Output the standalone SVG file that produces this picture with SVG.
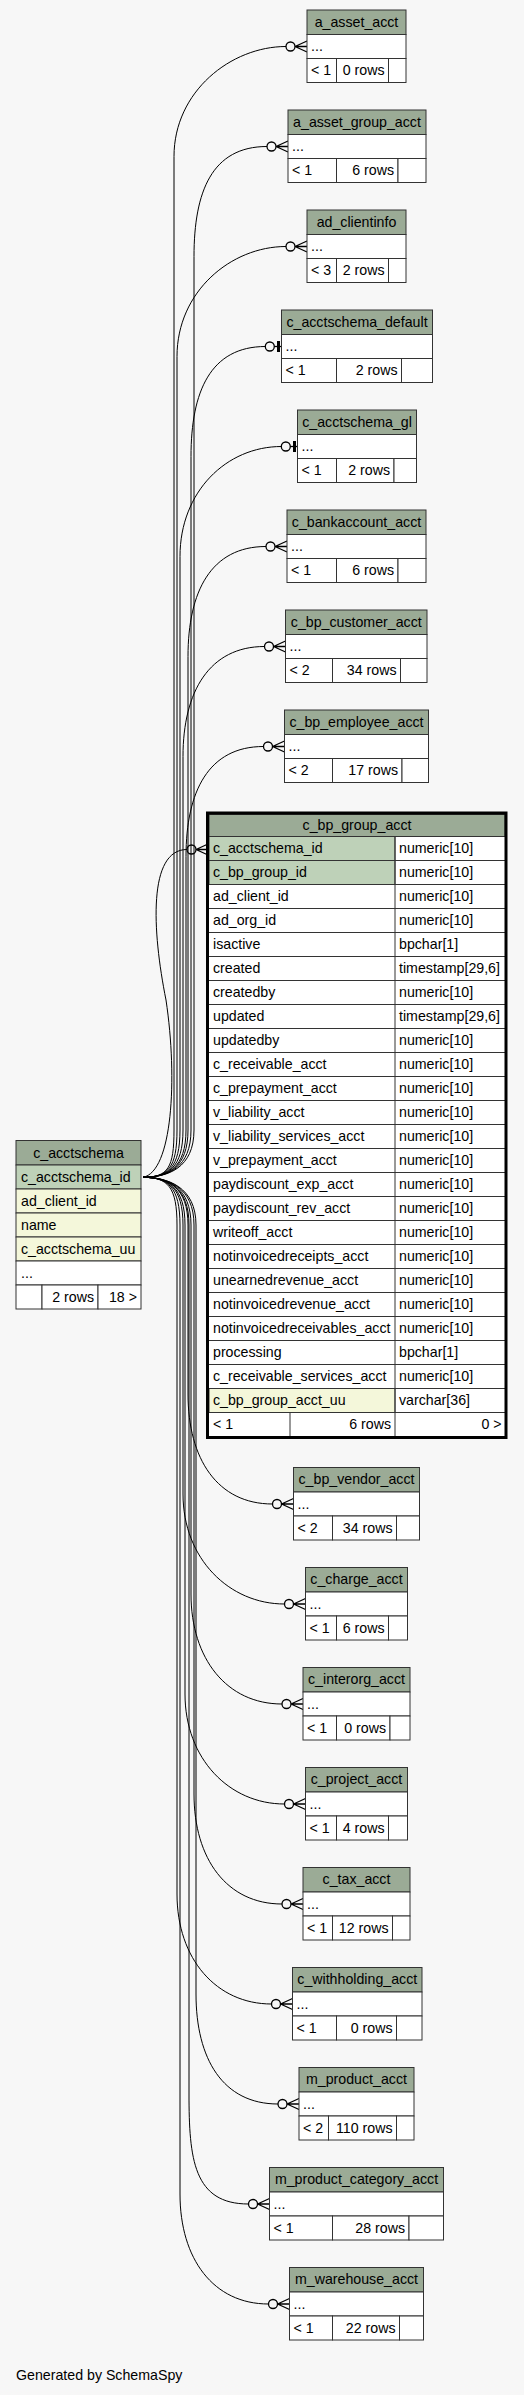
<svg xmlns="http://www.w3.org/2000/svg" xmlns:xlink="http://www.w3.org/1999/xlink" width="524" height="2395" viewBox="0 0 524 2395">
<style>
text{font-family:"Liberation Sans",Arial,Helvetica,sans-serif;font-size:14.2px;fill:#000}
.c{text-anchor:middle}
.e{text-anchor:end}
.hd{fill:#9bab96;stroke:#333;stroke-width:1}
.bd{fill:#fff;stroke:#333;stroke-width:1}
.pk{fill:#bed1b8;stroke:#333;stroke-width:1}
.ix{fill:#f4f7da;stroke:#333;stroke-width:1}
.ln{fill:none;stroke:#333;stroke-width:1}
#edges path{fill:none;stroke:#000;stroke-width:1}
.mk{fill:none;stroke:#000;stroke-width:1.3}
</style>
<defs>
<g id="crow" class="mk"><circle cx="-16.5" cy="0" r="4.5"/><path d="M-12,0 L0,-5.5 M-12,0 L0,0 M-12,0 L0,5.5"/></g>
<g id="tee" class="mk"><circle cx="-11.7" cy="0" r="4.5"/><path d="M-7.2,0 H0"/><rect x="-4.5" y="-5.5" width="3" height="11" fill="#000" stroke="none"/></g>
</defs>
<rect x="0" y="0" width="524" height="2395" fill="#f7f7f7"/>

<g id="edges">
<path d="M143,1177.3 C168,1177.3 174,1168 174,1130 L174,156.5 C174,91.5 231,46.5 286,46.5"/>
<path d="M143,1177.3 C168,1177.3 194,1168 194,1130 L194,256.5 C194,191.5 212,146.5 267,146.5"/>
<path d="M143,1177.3 C168,1177.3 177,1168 177,1130 L177,356.5 C177,291.5 231,246.5 286,246.5"/>
<path d="M143,1177.3 C168,1177.3 191,1168 191,1130 L191,456.5 C191,391.5 210.5,346.5 265.5,346.5"/>
<path d="M143,1177.3 C168,1177.3 180,1168 180,1130 L180,556.5 C180,491.5 226.5,446.5 281.5,446.5"/>
<path d="M143,1177.3 C168,1177.3 188,1168 188,1130 L188,656.5 C188,591.5 211,546.5 266,546.5"/>
<path d="M143,1177.3 C168,1177.3 183,1168 183,1130 L183,756.5 C183,691.5 209.5,646.5 264.5,646.5"/>
<path d="M143,1177.3 C168,1177.3 186,1168 186,1130 L186,856.5 C186,791.5 208.5,746.5 263.5,746.5"/>
<path d="M143,1177.3 C172,1172 178,1080 166,1000 C152,930 148,849.5 187,849.5"/>
<path d="M143,1177.3 C168,1177.3 188,1187 188,1225 L188,1394 C188,1459 217.5,1504 272.5,1504"/>
<path d="M143,1177.3 C168,1177.3 183,1187 183,1225 L183,1494 C183,1559 229.5,1604 284.5,1604"/>
<path d="M143,1177.3 C168,1177.3 191,1187 191,1225 L191,1594 C191,1659 227,1704 282,1704"/>
<path d="M143,1177.3 C168,1177.3 185,1187 185,1225 L185,1694 C185,1759 229.5,1804 284.5,1804"/>
<path d="M143,1177.3 C168,1177.3 194,1187 194,1225 L194,1794 C194,1859 227,1904 282,1904"/>
<path d="M143,1177.3 C168,1177.3 177,1187 177,1225 L177,1894 C177,1959 216.5,2004 271.5,2004"/>
<path d="M143,1177.3 C168,1177.3 196,1187 196,1225 L196,1994 C196,2059 223,2104 278,2104"/>
<path d="M143,1177.3 C168,1177.3 189,1187 189,1225 L189,2094 C189,2159 193.5,2204 248.5,2204"/>
<path d="M143,1177.3 C168,1177.3 180,1187 180,1225 L180,2194 C180,2259 213.5,2304 268.5,2304"/>
<use href="#crow" x="307" y="46.5"/>
<use href="#crow" x="288" y="146.5"/>
<use href="#crow" x="307" y="246.5"/>
<use href="#tee" x="281.5" y="346.5"/>
<use href="#tee" x="297.5" y="446.5"/>
<use href="#crow" x="287" y="546.5"/>
<use href="#crow" x="285.5" y="646.5"/>
<use href="#crow" x="284.5" y="746.5"/>
<use href="#crow" x="208" y="849.5"/>
<use href="#crow" x="293.5" y="1504"/>
<use href="#crow" x="305.5" y="1604"/>
<use href="#crow" x="303" y="1704"/>
<use href="#crow" x="305.5" y="1804"/>
<use href="#crow" x="303" y="1904"/>
<use href="#crow" x="292.5" y="2004"/>
<use href="#crow" x="299" y="2104"/>
<use href="#crow" x="269.5" y="2204"/>
<use href="#crow" x="289.5" y="2304"/>
</g>

<g id="a_asset_acct">
<rect class="hd" x="307" y="10" width="99" height="24.5"/><text class="c" x="356.5" y="26.5">a_asset_acct</text>
<rect class="bd" x="307" y="34.5" width="99" height="24"/><text x="311" y="51">...</text>
<rect class="bd" x="307" y="58.5" width="29.5" height="24"/><rect class="bd" x="336.5" y="58.5" width="52" height="24"/><rect class="bd" x="388.5" y="58.5" width="17.5" height="24"/>
<text x="311" y="75">&lt; 1</text><text class="e" x="384.5" y="75">0 rows</text>
</g>
<g id="a_asset_group_acct">
<rect class="hd" x="288" y="110" width="138" height="24.5"/><text class="c" x="357" y="126.5">a_asset_group_acct</text>
<rect class="bd" x="288" y="134.5" width="138" height="24"/><text x="292" y="151">...</text>
<rect class="bd" x="288" y="158.5" width="48.5" height="24"/><rect class="bd" x="336.5" y="158.5" width="61.5" height="24"/><rect class="bd" x="398" y="158.5" width="28" height="24"/>
<text x="292" y="175">&lt; 1</text><text class="e" x="394" y="175">6 rows</text>
</g>
<g id="ad_clientinfo">
<rect class="hd" x="307" y="210" width="99" height="24.5"/><text class="c" x="356.5" y="226.5">ad_clientinfo</text>
<rect class="bd" x="307" y="234.5" width="99" height="24"/><text x="311" y="251">...</text>
<rect class="bd" x="307" y="258.5" width="29.5" height="24"/><rect class="bd" x="336.5" y="258.5" width="52" height="24"/><rect class="bd" x="388.5" y="258.5" width="17.5" height="24"/>
<text x="311" y="275">&lt; 3</text><text class="e" x="384.5" y="275">2 rows</text>
</g>
<g id="c_acctschema_default">
<rect class="hd" x="281.5" y="310" width="151" height="24.5"/><text class="c" x="357" y="326.5">c_acctschema_default</text>
<rect class="bd" x="281.5" y="334.5" width="151" height="24"/><text x="285.5" y="351">...</text>
<rect class="bd" x="281.5" y="358.5" width="55" height="24"/><rect class="bd" x="336.5" y="358.5" width="65" height="24"/><rect class="bd" x="401.5" y="358.5" width="31" height="24"/>
<text x="285.5" y="375">&lt; 1</text><text class="e" x="397.5" y="375">2 rows</text>
</g>
<g id="c_acctschema_gl">
<rect class="hd" x="297.5" y="410" width="119" height="24.5"/><text class="c" x="357" y="426.5">c_acctschema_gl</text>
<rect class="bd" x="297.5" y="434.5" width="119" height="24"/><text x="301.5" y="451">...</text>
<rect class="bd" x="297.5" y="458.5" width="39" height="24"/><rect class="bd" x="336.5" y="458.5" width="57.5" height="24"/><rect class="bd" x="394" y="458.5" width="22.5" height="24"/>
<text x="301.5" y="475">&lt; 1</text><text class="e" x="390" y="475">2 rows</text>
</g>
<g id="c_bankaccount_acct">
<rect class="hd" x="287" y="510" width="139" height="24.5"/><text class="c" x="356.5" y="526.5">c_bankaccount_acct</text>
<rect class="bd" x="287" y="534.5" width="139" height="24"/><text x="291" y="551">...</text>
<rect class="bd" x="287" y="558.5" width="49.5" height="24"/><rect class="bd" x="336.5" y="558.5" width="61.5" height="24"/><rect class="bd" x="398" y="558.5" width="28" height="24"/>
<text x="291" y="575">&lt; 1</text><text class="e" x="394" y="575">6 rows</text>
</g>
<g id="c_bp_customer_acct">
<rect class="hd" x="285.5" y="610" width="141.5" height="24.5"/><text class="c" x="356.25" y="626.5">c_bp_customer_acct</text>
<rect class="bd" x="285.5" y="634.5" width="141.5" height="24"/><text x="289.5" y="651">...</text>
<rect class="bd" x="285.5" y="658.5" width="47" height="24"/><rect class="bd" x="332.5" y="658.5" width="68" height="24"/><rect class="bd" x="400.5" y="658.5" width="26.5" height="24"/>
<text x="289.5" y="675">&lt; 2</text><text class="e" x="396.5" y="675">34 rows</text>
</g>
<g id="c_bp_employee_acct">
<rect class="hd" x="284.5" y="710" width="144" height="24.5"/><text class="c" x="356.5" y="726.5">c_bp_employee_acct</text>
<rect class="bd" x="284.5" y="734.5" width="144" height="24"/><text x="288.5" y="751">...</text>
<rect class="bd" x="284.5" y="758.5" width="48" height="24"/><rect class="bd" x="332.5" y="758.5" width="69.5" height="24"/><rect class="bd" x="402" y="758.5" width="26.5" height="24"/>
<text x="288.5" y="775">&lt; 2</text><text class="e" x="398" y="775">17 rows</text>
</g>

<g id="c_bp_group_acct">
<rect class="hd" x="209" y="814.5" width="296" height="22" stroke="none"/>
<text class="c" x="357" y="829.5">c_bp_group_acct</text>
<rect x="209" y="836.5" width="296" height="600" fill="#fff"/>
<rect class="pk" x="209" y="836.5" width="186" height="24"/>
<rect class="pk" x="209" y="860.5" width="186" height="24"/>
<rect class="ix" x="209" y="1388.5" width="186" height="24"/>
<path class="ln" d="M209,836.5H505M209,860.5H505M209,884.5H505M209,908.5H505M209,932.5H505M209,956.5H505M209,980.5H505M209,1004.5H505M209,1028.5H505M209,1052.5H505M209,1076.5H505M209,1100.5H505M209,1124.5H505M209,1148.5H505M209,1172.5H505M209,1196.5H505M209,1220.5H505M209,1244.5H505M209,1268.5H505M209,1292.5H505M209,1316.5H505M209,1340.5H505M209,1364.5H505M209,1388.5H505M209,1412.5H505M395,836.5V1436.5M290,1412.5V1436.5"/>
<text x="213" y="853">c_acctschema_id</text><text x="399" y="853">numeric[10]</text>
<text x="213" y="877">c_bp_group_id</text><text x="399" y="877">numeric[10]</text>
<text x="213" y="901">ad_client_id</text><text x="399" y="901">numeric[10]</text>
<text x="213" y="925">ad_org_id</text><text x="399" y="925">numeric[10]</text>
<text x="213" y="949">isactive</text><text x="399" y="949">bpchar[1]</text>
<text x="213" y="973">created</text><text x="399" y="973">timestamp[29,6]</text>
<text x="213" y="997">createdby</text><text x="399" y="997">numeric[10]</text>
<text x="213" y="1021">updated</text><text x="399" y="1021">timestamp[29,6]</text>
<text x="213" y="1045">updatedby</text><text x="399" y="1045">numeric[10]</text>
<text x="213" y="1069">c_receivable_acct</text><text x="399" y="1069">numeric[10]</text>
<text x="213" y="1093">c_prepayment_acct</text><text x="399" y="1093">numeric[10]</text>
<text x="213" y="1117">v_liability_acct</text><text x="399" y="1117">numeric[10]</text>
<text x="213" y="1141">v_liability_services_acct</text><text x="399" y="1141">numeric[10]</text>
<text x="213" y="1165">v_prepayment_acct</text><text x="399" y="1165">numeric[10]</text>
<text x="213" y="1189">paydiscount_exp_acct</text><text x="399" y="1189">numeric[10]</text>
<text x="213" y="1213">paydiscount_rev_acct</text><text x="399" y="1213">numeric[10]</text>
<text x="213" y="1237">writeoff_acct</text><text x="399" y="1237">numeric[10]</text>
<text x="213" y="1261">notinvoicedreceipts_acct</text><text x="399" y="1261">numeric[10]</text>
<text x="213" y="1285">unearnedrevenue_acct</text><text x="399" y="1285">numeric[10]</text>
<text x="213" y="1309">notinvoicedrevenue_acct</text><text x="399" y="1309">numeric[10]</text>
<text x="213" y="1333">notinvoicedreceivables_acct</text><text x="399" y="1333">numeric[10]</text>
<text x="213" y="1357">processing</text><text x="399" y="1357">bpchar[1]</text>
<text x="213" y="1381">c_receivable_services_acct</text><text x="399" y="1381">numeric[10]</text>
<text x="213" y="1405">c_bp_group_acct_uu</text><text x="399" y="1405">varchar[36]</text>
<text x="213" y="1429">&lt; 1</text><text class="e" x="391" y="1429">6 rows</text><text class="e" x="501.5" y="1429">0 &gt;</text>
<rect x="207.5" y="813" width="298.5" height="624.5" fill="none" stroke="#000" stroke-width="3"/>
</g>

<g id="c_acctschema">
<rect class="hd" x="16" y="1140.5" width="125" height="24.5"/><text class="c" x="78.5" y="1157.5">c_acctschema</text>
<rect class="pk" x="16" y="1165" width="125" height="24"/><text x="21" y="1181.5">c_acctschema_id</text>
<rect class="ix" x="16" y="1189" width="125" height="24"/><text x="21" y="1205.5">ad_client_id</text>
<rect class="ix" x="16" y="1213" width="125" height="24"/><text x="21" y="1229.5">name</text>
<rect class="ix" x="16" y="1237" width="125" height="24"/><text x="21" y="1253.5">c_acctschema_uu</text>
<rect class="bd" x="16" y="1261" width="125" height="24"/><text x="21" y="1277.5">...</text>
<rect class="bd" x="16" y="1285" width="26" height="24"/><rect class="bd" x="42" y="1285" width="56" height="24"/><rect class="bd" x="98" y="1285" width="43" height="24"/>
<text class="e" x="94" y="1301.5">2 rows</text><text class="e" x="137" y="1301.5">18 &gt;</text>
</g>

<g id="c_bp_vendor_acct">
<rect class="hd" x="293.5" y="1467.5" width="126" height="24.5"/><text class="c" x="356.5" y="1484">c_bp_vendor_acct</text>
<rect class="bd" x="293.5" y="1492" width="126" height="24"/><text x="297.5" y="1508.5">...</text>
<rect class="bd" x="293.5" y="1516" width="39" height="24"/><rect class="bd" x="332.5" y="1516" width="64" height="24"/><rect class="bd" x="396.5" y="1516" width="23" height="24"/>
<text x="297.5" y="1532.5">&lt; 2</text><text class="e" x="392.5" y="1532.5">34 rows</text>
</g>
<g id="c_charge_acct">
<rect class="hd" x="305.5" y="1567.5" width="102" height="24.5"/><text class="c" x="356.5" y="1584">c_charge_acct</text>
<rect class="bd" x="305.5" y="1592" width="102" height="24"/><text x="309.5" y="1608.5">...</text>
<rect class="bd" x="305.5" y="1616" width="31" height="24"/><rect class="bd" x="336.5" y="1616" width="52" height="24"/><rect class="bd" x="388.5" y="1616" width="19" height="24"/>
<text x="309.5" y="1632.5">&lt; 1</text><text class="e" x="384.5" y="1632.5">6 rows</text>
</g>
<g id="c_interorg_acct">
<rect class="hd" x="303" y="1667.5" width="107" height="24.5"/><text class="c" x="356.5" y="1684">c_interorg_acct</text>
<rect class="bd" x="303" y="1692" width="107" height="24"/><text x="307" y="1708.5">...</text>
<rect class="bd" x="303" y="1716" width="33.5" height="24"/><rect class="bd" x="336.5" y="1716" width="53.5" height="24"/><rect class="bd" x="390" y="1716" width="20" height="24"/>
<text x="307" y="1732.5">&lt; 1</text><text class="e" x="386" y="1732.5">0 rows</text>
</g>
<g id="c_project_acct">
<rect class="hd" x="305.5" y="1767.5" width="102" height="24.5"/><text class="c" x="356.5" y="1784">c_project_acct</text>
<rect class="bd" x="305.5" y="1792" width="102" height="24"/><text x="309.5" y="1808.5">...</text>
<rect class="bd" x="305.5" y="1816" width="31" height="24"/><rect class="bd" x="336.5" y="1816" width="52" height="24"/><rect class="bd" x="388.5" y="1816" width="19" height="24"/>
<text x="309.5" y="1832.5">&lt; 1</text><text class="e" x="384.5" y="1832.5">4 rows</text>
</g>
<g id="c_tax_acct">
<rect class="hd" x="303" y="1867.5" width="107" height="24.5"/><text class="c" x="356.5" y="1884">c_tax_acct</text>
<rect class="bd" x="303" y="1892" width="107" height="24"/><text x="307" y="1908.5">...</text>
<rect class="bd" x="303" y="1916" width="29.5" height="24"/><rect class="bd" x="332.5" y="1916" width="60" height="24"/><rect class="bd" x="392.5" y="1916" width="17.5" height="24"/>
<text x="307" y="1932.5">&lt; 1</text><text class="e" x="388.5" y="1932.5">12 rows</text>
</g>
<g id="c_withholding_acct">
<rect class="hd" x="292.5" y="1967.5" width="129.5" height="24.5"/><text class="c" x="357.25" y="1984">c_withholding_acct</text>
<rect class="bd" x="292.5" y="1992" width="129.5" height="24"/><text x="296.5" y="2008.5">...</text>
<rect class="bd" x="292.5" y="2016" width="44" height="24"/><rect class="bd" x="336.5" y="2016" width="60" height="24"/><rect class="bd" x="396.5" y="2016" width="25.5" height="24"/>
<text x="296.5" y="2032.5">&lt; 1</text><text class="e" x="392.5" y="2032.5">0 rows</text>
</g>
<g id="m_product_acct">
<rect class="hd" x="299" y="2067.5" width="115" height="24.5"/><text class="c" x="356.5" y="2084">m_product_acct</text>
<rect class="bd" x="299" y="2092" width="115" height="24"/><text x="303" y="2108.5">...</text>
<rect class="bd" x="299" y="2116" width="29.5" height="24"/><rect class="bd" x="328.5" y="2116" width="68" height="24"/><rect class="bd" x="396.5" y="2116" width="17.5" height="24"/>
<text x="303" y="2132.5">&lt; 2</text><text class="e" x="392.5" y="2132.5">110 rows</text>
</g>
<g id="m_product_category_acct">
<rect class="hd" x="269.5" y="2167.5" width="174" height="24.5"/><text class="c" x="356.5" y="2184">m_product_category_acct</text>
<rect class="bd" x="269.5" y="2192" width="174" height="24"/><text x="273.5" y="2208.5">...</text>
<rect class="bd" x="269.5" y="2216" width="63" height="24"/><rect class="bd" x="332.5" y="2216" width="76.5" height="24"/><rect class="bd" x="409" y="2216" width="34.5" height="24"/>
<text x="273.5" y="2232.5">&lt; 1</text><text class="e" x="405" y="2232.5">28 rows</text>
</g>
<g id="m_warehouse_acct">
<rect class="hd" x="289.5" y="2267.5" width="134" height="24.5"/><text class="c" x="356.5" y="2284">m_warehouse_acct</text>
<rect class="bd" x="289.5" y="2292" width="134" height="24"/><text x="293.5" y="2308.5">...</text>
<rect class="bd" x="289.5" y="2316" width="43" height="24"/><rect class="bd" x="332.5" y="2316" width="67" height="24"/><rect class="bd" x="399.5" y="2316" width="24" height="24"/>
<text x="293.5" y="2332.5">&lt; 1</text><text class="e" x="395.5" y="2332.5">22 rows</text>
</g>

<text x="16" y="2380">Generated by SchemaSpy</text>
</svg>
